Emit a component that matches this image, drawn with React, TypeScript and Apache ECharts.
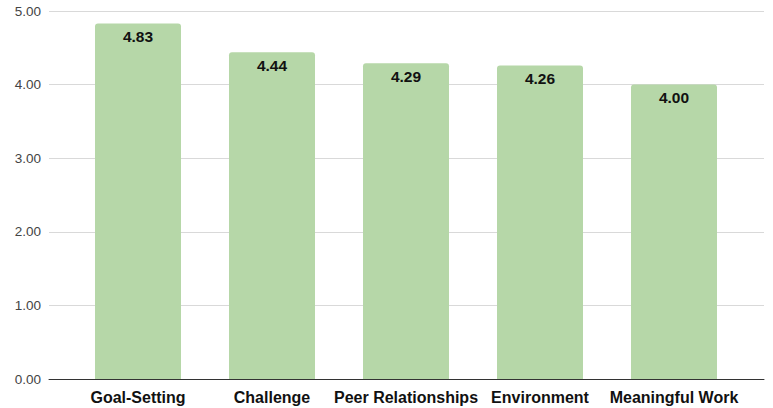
import React, { useEffect, useRef } from "react";
import * as echarts from "echarts";

const categories = ["Goal-Setting", "Challenge", "Peer Relationships", "Environment", "Meaningful Work"];
const scores = [4.83, 4.44, 4.29, 4.26, 4.0];
const yMin = 0;
const yMax = 5;
const yInterval = 1;

export default function App() {
  const ref = useRef<HTMLDivElement>(null);
  useEffect(() => {
    if (!ref.current) return;
    document.body.style.margin = "0";
    document.body.style.overflow = "hidden";
    const chart = echarts.init(ref.current, null, { renderer: "svg" });
    const font = "Liberation Sans, Arial, sans-serif";
    chart.setOption({
      animation: false,
      grid: [
        { left: 49, right: 9, top: 11, bottom: 29 },
        { left: 71, right: 32, top: 11, bottom: 29 },
      ],
      xAxis: [
        {
          gridIndex: 0,
          type: "value",
          min: 0,
          max: 1,
          axisLine: { show: true, onZero: false, lineStyle: { color: "#333333", width: 1 } },
          axisTick: { show: false },
          axisLabel: { show: false },
          splitLine: { show: false },
        },
        {
          gridIndex: 1,
          type: "category",
          data: categories,
          axisLine: { show: false },
          axisTick: { show: false },
          axisLabel: {
            color: "#111111",
            fontFamily: font,
            fontWeight: "bold",
            fontSize: 16,
            margin: 10,
            interval: 0,
          },
        },
      ],
      yAxis: [
        {
          gridIndex: 0,
          type: "value",
          min: yMin,
          max: yMax,
          interval: yInterval,
          axisLine: { show: false },
          axisTick: { show: false },
          axisLabel: {
            color: "#444444",
            fontFamily: font,
            fontSize: 13.5,
            margin: 8,
            formatter: (v: number) => v.toFixed(2),
          },
          splitLine: { lineStyle: { color: "#d9d9d9", width: 1 } },
        },
        {
          gridIndex: 1,
          type: "value",
          min: yMin,
          max: yMax,
          interval: yInterval,
          axisLine: { show: false },
          axisTick: { show: false },
          axisLabel: { show: false },
          splitLine: { show: false },
        },
      ],
      series: [
        {
          type: "bar",
          xAxisIndex: 1,
          yAxisIndex: 1,
          data: scores,
          barWidth: 86,
          z: 1,
          itemStyle: { color: "#b6d7a8", borderRadius: [3, 3, 0, 0] },
          label: {
            show: true,
            position: "insideTop",
            distance: 5,
            color: "#111111",
            fontFamily: font,
            fontWeight: "bold",
            fontSize: 15.5,
            formatter: (p: any) => Number(p.value).toFixed(2),
          },
        },
      ],
    });
    return () => chart.dispose();
  }, []);
  return (
    <div
      ref={ref}
      style={{ position: "absolute", left: 0, top: 0, width: 773, height: 408 }}
    />
  );
}
